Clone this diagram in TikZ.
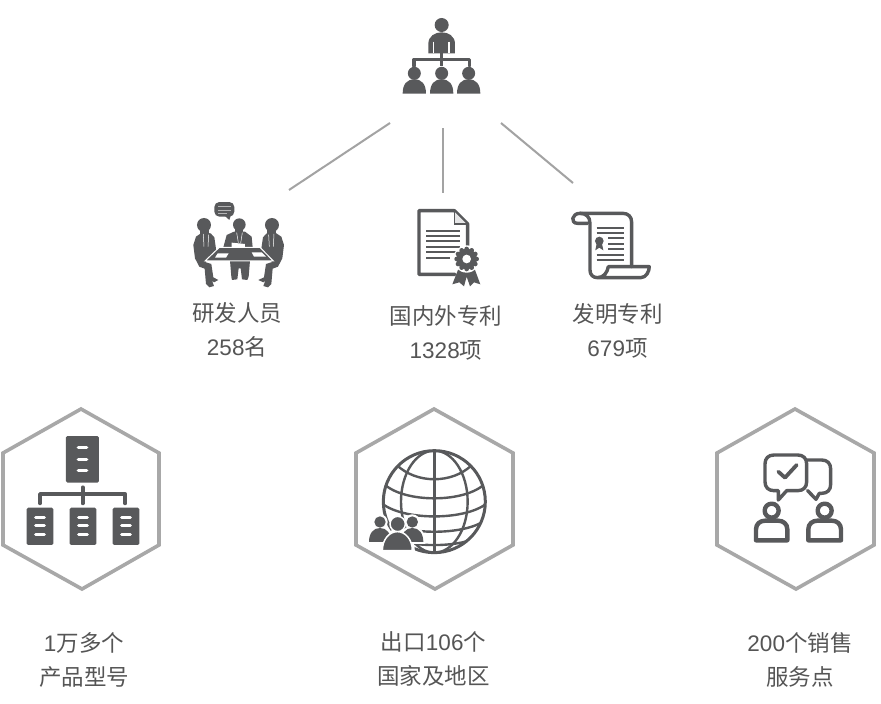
\documentclass[tikz,border=0pt]{standalone}
\usepackage{fontspec}
\setmainfont{Noto Sans CJK SC}
\newfontfamily\lat{Liberation Sans}
\definecolor{ink}{HTML}{58595B}
\definecolor{hexc}{HTML}{A8A8A8}
\definecolor{linkc}{HTML}{A3A3A3}
\definecolor{txt}{HTML}{555555}
\tikzset{
  hexa/.style={draw=hexc,line width=3.6pt,line join=miter,fill=white},
  link/.style={draw=linkc,line width=2pt},
  lab/.style={text=txt,align=center,inner sep=0pt,font=\fontsize{22.5}{34}\selectfont},
  zoomed/.style={x=0.3333pt,y=-0.3333pt},
  ol/.style={draw=ink,line width=3.4pt,line join=round,line cap=round,fill=none},
  thin rule/.style={draw=ink,line width=1.8pt},
  wl/.style={draw=white,line width=3.4pt,line cap=round},
  tie/.style={draw=white,line width=0.5pt},
}
\begin{document}
\begin{tikzpicture}[x=1pt,y=-1pt]
\useasboundingbox (0,0) rectangle (881,704);
\fill[white] (0,0) rectangle (881,704);

% connectors
\coordinate (c1a) at (390,123); \coordinate (c1b) at (289,190);
\coordinate (c2a) at (443,128); \coordinate (c2b) at (443,193);
\coordinate (c3a) at (501,123); \coordinate (c3b) at (573,183);
\draw[link] (c1a) -- (c1b);
\draw[link] (c2a) -- (c2b);
\draw[link] (c3a) -- (c3b);

% top org icon
\begin{scope}[shift={(380,0)},zoomed]
  \fill[ink] (185,75) circle (21);
  \fill[ink] (145,160) -- (145,132) .. controls (145,108) and (165,97) .. (185,97) .. controls (205,97) and (225,108) .. (225,132) -- (225,160) -- cycle;
  \draw[white,line width=1.1pt] (160,125) -- (160,160) (207,125) -- (207,160);
  \draw[ink,line width=3.3pt] (185,160) -- (185,198);
  \draw[ink,line width=3.3pt,line join=round,line cap=round] (102,198) -- (102,178) -- (268,178) -- (268,198);
  \foreach \c in {103,185,266}{
    \fill[ink] (\c,220) circle (19.5);
    \fill[ink] (\c-35,281) .. controls (\c-35,252) and (\c-22,238) .. (\c,238) .. controls (\c+22,238) and (\c+35,252) .. (\c+35,281) -- cycle;
  }
\end{scope}

% meeting icon
\begin{scope}[shift={(170,190)},zoomed]
  \fill[ink,rounded corners=5pt] (133,36) rectangle (193,80);
  \fill[ink] (165,78) -- (178,90) -- (182,78) -- cycle;
  \draw[draw=ink!45,line width=0.9pt] (145,50) -- (182,50) (145,60) -- (182,60) (145,70) -- (170,70);
  % left person
  \fill[ink] (102,105) circle (21);
  \fill[ink] (90,115) rectangle (116,135);
  \fill[ink] (70,165) -- (78,140) -- (96,128) -- (122,130) -- (133,142) -- (140,190) -- (105,216) -- (124,222) -- (130,262) -- (145,270) -- (132,277) -- (126,272) -- (132,288) -- (118,292) -- (108,282) -- (104,236) -- (88,230) -- (75,205) -- cycle;
  \draw[tie] (100,132) -- (102,170) (116,134) -- (114,170);
  % right person
  \fill[ink] (306,105) circle (21);
  \fill[ink] (292,115) rectangle (318,135);
  \fill[ink] (342,165) -- (334,140) -- (316,128) -- (290,130) -- (279,142) -- (272,190) -- (307,216) -- (288,222) -- (282,262) -- (265,270) -- (280,277) -- (286,272) -- (280,288) -- (294,292) -- (304,282) -- (308,236) -- (324,230) -- (337,205) -- cycle;
  \draw[tie] (312,132) -- (310,170) (296,134) -- (298,170);
  % centre person
  \fill[ink] (208,104) circle (19);
  \fill[ink] (196,112) rectangle (220,130);
  \fill[ink] (160,172) -- (170,135) -- (192,125) -- (225,125) -- (245,140) -- (248,172) -- cycle;
  \fill[ink] (180,212) -- (240,212) -- (236,260) -- (232,270) -- (216,268) -- (212,235) -- (206,235) -- (202,268) -- (186,270) -- (184,260) -- cycle;
  \fill[white] (185,158) -- (225,162) -- (225,172) -- (185,172) -- cycle;
  \draw[tie] (200,128) -- (205,158) (217,128) -- (212,160);
  % table
  \fill[ink,draw=white,line width=1pt,line join=miter] (148,172) -- (270,172) -- (310,213) -- (105,213) -- cycle;
  \fill[white] (143,190) -- (176,190) -- (168,203) -- (135,203) -- cycle;
  \fill[white] (245,187) -- (275,187) -- (288,200) -- (252,200) -- cycle;
\end{scope}

% certificate icon
\begin{scope}[shift={(400,195)},zoomed]
  \draw[ol] (165,238) -- (57,238) -- (57,47) -- (163,47) -- (203,87) -- (203,155);
  \fill[ink!15] (163,50) -- (200,87) -- (163,87) -- cycle;
  \draw[ink,line width=1.1pt] (163,47) -- (163,87) -- (203,87);
  \foreach \y in {107,123,139,155,171}{\draw[thin rule] (78,\y) -- (180,\y);}
  \draw[thin rule] (78,188) -- (150,188);
  % ribbon
  \fill[ink] (175,222) -- (157,268) -- (178,262) -- (192,274) -- (200,245) -- (210,274) -- (222,262) -- (241,268) -- (224,222) -- cycle;
  % seal
  \fill[white] (200,192) circle (41);
  \fill[ink] \foreach \a in {0,30,...,330}{ (200,192) ++(\a:30) circle (7) };
  \fill[ink] (200,192) circle (31);
  \fill[white] (200,192) circle (13);
\end{scope}

% scroll icon
\begin{scope}[shift={(400,195)},zoomed]
  \draw[ol] (563,85) -- (533,85) .. controls (510,85) and (515,55) .. (540,55) -- (668,55) .. controls (685,55) and (695,65) .. (695,82) -- (695,215);
  \draw[ol] (540,55) .. controls (558,55) and (570,65) .. (570,85) -- (570,225) .. controls (570,240) and (580,248) .. (592,248) -- (722,248) .. controls (738,248) and (748,230) .. (748,215) -- (625,215) .. controls (622,232) and (612,248) .. (592,248);
  \foreach \y in {98,113,180,196}{\draw[thin rule] (590,\y) -- (673,\y);}
  \foreach \y in {130,147,163}{\draw[thin rule] (625,\y) -- (673,\y);}
  \fill[ink] (590,146) -- (586,166) -- (598,158) -- (610,166) -- (606,146) -- cycle;
  \fill[ink] (598,138) circle (13);
\end{scope}

% hexagons
\draw[hexa] (81,409) -- (159,453) -- (159,545) -- (82,589) -- (3,545) -- (3,453) -- cycle;
\draw[hexa] (434,409) -- (513,453) -- (513,545) -- (435,589) -- (356,545) -- (356,453) -- cycle;
\draw[hexa] (795,409) -- (874,453) -- (874,545) -- (796,589) -- (717,545) -- (717,453) -- cycle;

% product tree icon
\begin{scope}[shift={(0,400)},zoomed]
  \fill[ink,rounded corners=1.5pt] (198,108) rectangle (297,248);
  \foreach \y in {143,178,212}{\draw[wl] (235,\y) -- (260,\y);}
  \draw[ink,line width=3.8pt,line cap=round] (248,262) -- (248,310);
  \draw[ink,line width=3.8pt,line cap=round,line join=round] (120,310) -- (120,282) -- (376,282) -- (376,310);
  \foreach \x in {80,209,338}{
    \fill[ink,rounded corners=1.5pt] (\x,323) rectangle (\x+80,435);
    \foreach \y in {352,378,405}{\draw[wl,line width=3pt] (\x+27,\y) -- (\x+53,\y);}
  }
\end{scope}

% globe icon
\begin{scope}[shift={(350,400)},zoomed]
  \begin{scope}
    \clip (253,305) circle (153);
    \draw[ink,line width=2.4pt] (253,305) ellipse (100 and 153);
    \foreach \xa/\ya/\xb/\yb/\ym in {140/195/366/195/240, 100/250/406/250/298, 90/305/416/305/352, 100/360/406/360/395, 130/415/376/415/430}{
      \draw[ink,line width=2.4pt] (\xa,\ya) .. controls (\xa+60,\ym+12) and (\xb-60,\ym+12) .. (\xb,\yb);
    }
  \end{scope}
  \draw[ink,line width=2.8pt] (253,150) -- (253,458);
  \draw[ink,line width=3pt] (253,305) circle (153);
  % people
  \foreach \c in {90,187}{
    \fill[white] (\c,366) circle (23);
    \draw[white,line width=4pt,fill=white] (\c-33,426) .. controls (\c-33,400) and (\c-20,384) .. (\c,384) .. controls (\c+20,384) and (\c+33,400) .. (\c+33,426) -- cycle;
  }
  \draw[white,line width=5pt,fill=white] (97,452) .. controls (97,418) and (118,395) .. (142,395) .. controls (166,395) and (187,418) .. (187,452) -- cycle;
  \foreach \c in {90,187}{
    \fill[ink] (\c,366) circle (17);
    \fill[ink] (\c-33,426) .. controls (\c-33,400) and (\c-20,384) .. (\c,384) .. controls (\c+20,384) and (\c+33,400) .. (\c+33,426) -- cycle;
  }
  \draw[white,line width=1.5pt,fill=ink] (143,372) circle (23);
  \draw[white,line width=1.5pt,fill=ink] (97,452) .. controls (97,418) and (118,395) .. (142,395) .. controls (166,395) and (187,418) .. (187,452) -- cycle;
\end{scope}

% service icon
\begin{scope}[shift={(710,400)},zoomed]
  \draw[ol] (290,180) -- (335,180) .. controls (352,180) and (362,190) .. (362,207) -- (362,253) .. controls (362,270) and (352,280) .. (335,280) -- (328,280) -- (318,298) -- (293,272);
  \draw[ol,fill=white] (205,272) -- (192,272) .. controls (175,272) and (165,262) .. (165,245) -- (165,192) .. controls (165,175) and (175,165) .. (192,165) -- (263,165) .. controls (280,165) and (290,175) .. (290,192) -- (290,245) .. controls (290,262) and (280,272) .. (263,272) -- (230,272) -- (205,300) -- cycle;
  \draw[ink,line width=3.8pt,line cap=round,line join=round] (205,215) -- (225,233) -- (260,195);
  \foreach \c/\w in {185/47,344/49}{
    \draw[ol,line width=4.4pt] (\c,332) circle (21);
    \draw[ol,line width=4.4pt] (\c-\w,421) -- (\c-\w,388) .. controls (\c-\w,372) and (\c-\w+12,362) .. (\c-\w+28,362) -- (\c+\w-28,362) .. controls (\c+\w-12,362) and (\c+\w,372) .. (\c+\w,388) -- (\c+\w,421) -- cycle;
  }
\end{scope}

% labels
\node[lab] (t1) at (237,330) {研发人员\\{\lat 258}名};
\node[lab] (t2) at (446,333) {国内外专利\\{\lat 1328}项};
\node[lab] (t3) at (617.5,331) {发明专利\\{\lat 679}项};
\node[lab] (t4) at (84,660) {{\lat 1}万多个\\产品型号};
\node[lab] (t5) at (433.5,659) {出口{\lat 106}个\\国家及地区};
\node[lab] (t6) at (800,660) {{\lat 200}个销售\\服务点};
\end{tikzpicture}
\end{document}
